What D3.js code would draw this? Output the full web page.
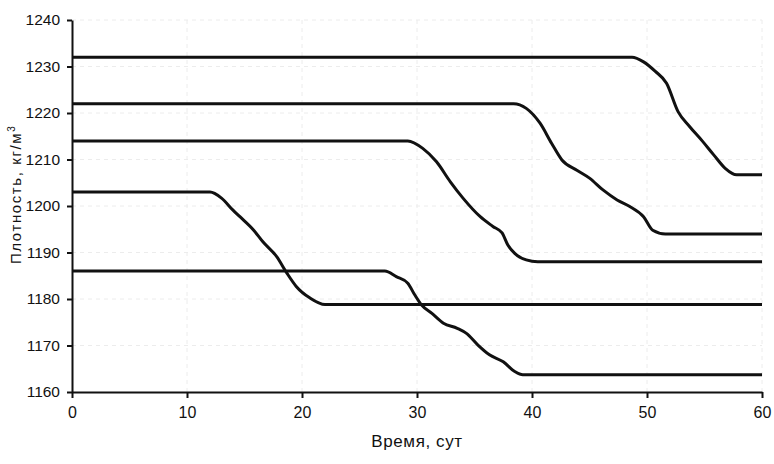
<!DOCTYPE html>
<html lang="ru">
<head>
    <meta charset="UTF-8">
    <title>Плотность</title>
    <script src="https://d3js.org/d3.v7.min.js"></script>
    <style>
        body { margin: 0; background: #fff; }
        text { font-family: "Liberation Sans", Arial, sans-serif; fill: #111; }
    </style>
</head>
<body>
    <svg id="chart" width="774" height="464"></svg>
    <script>
        // tick values
        const xTicks = [0, 10, 20, 30, 40, 50, 60];
        const yTicks = [1160, 1170, 1180, 1190, 1200, 1210, 1220, 1230, 1240];

        // five density curves (days, kg/m3)
        const daysA = [0, 48.7, 49.7, 50.7, 51.7, 52.7, 53.7, 54.8, 55.8, 56.8, 57.8, 60];
        const densA = [1232, 1232, 1231, 1229, 1226.4, 1220.3, 1217.1, 1214, 1211, 1208.1, 1206.7, 1206.7];

        const daysB = [0, 38.4, 39.5, 40.7, 41.7, 42.6, 43.9, 45.0, 46.2, 47.4, 48.5, 49.7, 50.5, 51.6, 60];
        const densB = [1222, 1222, 1221, 1217.8, 1213.5, 1209.9, 1207.7, 1206, 1203.4, 1201.3, 1199.9, 1197.7, 1194.8, 1194, 1194];

        const daysC = [0, 29.2, 30.5, 31.7, 32.9, 34.0, 35.5, 36.6, 37.4, 37.9, 38.5, 39.5, 40.5, 60];
        const densC = [1214, 1214, 1212.4, 1209.5, 1205.2, 1201.7, 1197.7, 1195.6, 1194.2, 1191.6, 1189.8, 1188.4, 1188, 1188];

        const daysD = [0, 12.0, 13.0, 14.0, 14.6, 15.8, 16.6, 17.8, 18.7, 19.5, 20.7, 22.0, 60];
        const densD = [1203, 1203, 1201.7, 1199.1, 1197.7, 1194.8, 1192.3, 1189.1, 1185.5, 1182.7, 1180.2, 1178.8, 1178.8];

        const daysE = [0, 27.2, 28.2, 29.2, 29.8, 30.4, 31.3, 32.3, 33.5, 34.3, 35.3, 36.3, 37.5, 38.5, 39.2, 60];
        const densE = [1186, 1186, 1184.8, 1183.4, 1180.9, 1178.7, 1176.9, 1174.8, 1173.7, 1172.6, 1170.1, 1168, 1166.5, 1164.4, 1163.7, 1163.7];

        const series = [[daysA, densA], [daysB, densB], [daysC, densC], [daysD, densD], [daysE, densE]]
            .map(([d, v]) => d.map((day, i) => ({ day: day, val: v[i] })));

        const margin = { top: 20, right: 12, bottom: 72, left: 72 };
        const width = 774 - margin.left - margin.right;
        const height = 464 - margin.top - margin.bottom;

        const svg = d3.select("#chart");
        const g = svg.append("g").attr("transform", `translate(${margin.left},${margin.top})`);

        const x = d3.scaleLinear().domain([0, 60]).range([0, width]);
        const y = d3.scaleLinear().domain([1160, 1240]).range([height, 0]);

        // very faint gridlines (barely visible in the scan)
        g.append("g").selectAll("line")
            .data(yTicks.slice(1))
            .enter().append("line")
            .attr("x1", 0).attr("x2", width)
            .attr("y1", d => y(d)).attr("y2", d => y(d))
            .attr("stroke", "#ececec")
            .attr("stroke-dasharray", "4,4");
        g.append("g").selectAll("line")
            .data(xTicks.slice(1))
            .enter().append("line")
            .attr("x1", d => x(d)).attr("x2", d => x(d))
            .attr("y1", 0).attr("y2", height)
            .attr("stroke", "#ececec")
            .attr("stroke-dasharray", "4,4");

        // axes
        const xAxis = g.append("g")
            .attr("transform", `translate(0,${height})`)
            .call(d3.axisBottom(x).tickValues(xTicks).tickSize(6).tickSizeOuter(0).tickPadding(9));
        const yAxis = g.append("g")
            .call(d3.axisLeft(y).tickValues(yTicks).tickFormat(d3.format("d")).tickSize(5).tickSizeOuter(0).tickPadding(7));
        [xAxis, yAxis].forEach(a => {
            a.select(".domain").attr("stroke", "#111").attr("stroke-width", 2);
            a.selectAll(".tick line").attr("stroke", "#111").attr("stroke-width", 2);
            a.selectAll("text").attr("fill", "#111");
        });
        xAxis.selectAll("text").style("font-size", "16px");
        yAxis.selectAll("text").style("font-size", "15.5px");

        // the curves
        const line = d3.line()
            .x(d => x(d.day))
            .y(d => y(d.val))
            .curve(d3.curveMonotoneX);
        g.selectAll("path.curve")
            .data(series)
            .enter().append("path")
            .attr("class", "curve")
            .attr("d", line)
            .attr("fill", "none")
            .attr("stroke", "#111")
            .attr("stroke-width", 3)
            .attr("stroke-linejoin", "round");

        // axis titles
        svg.append("text")
            .attr("x", margin.left + width / 2)
            .attr("y", 447)
            .attr("text-anchor", "middle")
            .style("font-size", "17px")
            .style("letter-spacing", "0.6px")
            .text("Время, сут");

        const yTitle = svg.append("text")
            .attr("transform", `translate(21,${margin.top + y(1202.5)}) rotate(-90)`)
            .attr("text-anchor", "middle")
            .style("font-size", "15px")
            .style("letter-spacing", "1.6px");
        yTitle.append("tspan").text("Плотность, кг/м");
        yTitle.append("tspan")
            .attr("dy", -6)
            .style("font-size", "10px")
            .text("3");
    </script>
</body>
</html>
